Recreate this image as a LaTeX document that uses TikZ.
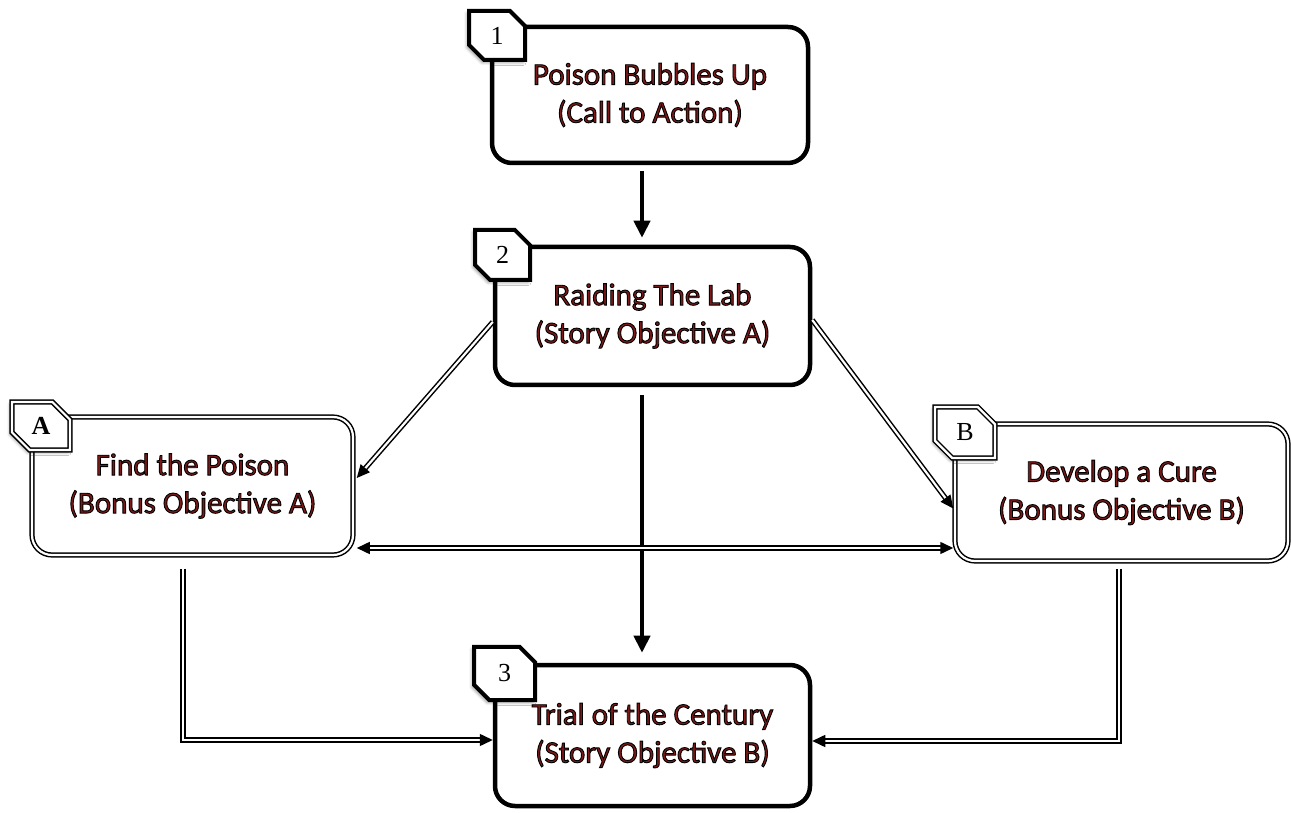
\documentclass[tikz,border=0pt]{standalone}
\usepackage{fontspec}
\setmainfont{Carlito}
\newfontfamily\tagfont{Liberation Serif}
\usetikzlibrary{arrows.meta,shapes.misc,shadows.blur}
\definecolor{txtred}{RGB}{125,25,25}
\newcommand{\otext}[1]{{\color{txtred}\special{pdf:literal direct 2 Tr 0.9 w 0 0 0 RG}#1\special{pdf:literal direct 0 Tr}}}
\tikzset{
  boxtext/.style={align=center,font=\fontsize{31}{38}\selectfont},
  heavybox/.style={draw=black,line width=4.5pt,rounded corners=20pt,fill=white,boxtext},
  dblbox/.style={draw=black,line width=1.5pt,double=white,double distance=2.2pt,rounded corners=20pt,fill=white,boxtext},
  tagbox/.style={chamfered rectangle,chamfered rectangle corners={north east,south west},
     chamfered rectangle xsep=9pt,chamfered rectangle ysep=9pt,fill=white,inner sep=0pt,
     font=\tagfont\fontsize{26}{28}\selectfont,
     blur shadow={shadow xshift=-2pt,shadow yshift=-2.5pt,shadow blur radius=3pt,shadow opacity=40}},
  heavytag/.style={tagbox,draw=black,line width=4pt},
  dbltag/.style={tagbox,draw=black,line width=1.5pt,double=white,double distance=2.2pt},
  heavyarrow/.style={line width=4pt,-{Triangle[length=17pt,width=16pt]}},
  dblarrow/.style={draw=black,line width=1.5pt,double=white,double distance=2.2pt,-{Triangle[length=13pt,width=12pt]}},
  dblline/.style={draw=black,line width=1.5pt,double=white,double distance=2.2pt},
}
\begin{document}
\begin{tikzpicture}[x=1pt,y=1pt]
\useasboundingbox (0,0) rectangle (1291,812);
% boxes
\node[heavybox,minimum width=316pt,minimum height=136pt] (b1) at (650,717) {\otext{Poison Bubbles Up}\\\otext{(Call to Action)}};
\node[heavybox,minimum width=315pt,minimum height=138pt] (b2) at (652.5,496) {\otext{Raiding The Lab}\\\otext{(Story Objective A)}};
\node[heavybox,minimum width=315pt,minimum height=141pt] (b3) at (652.5,76.5) {\otext{Trial of the Century}\\\otext{(Story Objective B)}};
\node[dblbox,minimum width=321pt,minimum height=138pt] (bA) at (192.5,326) {\otext{Find the Poison}\\\otext{(Bonus Objective A)}};
\node[dblbox,minimum width=333pt,minimum height=137pt] (bB) at (1121.5,319.5) {\otext{Develop a Cure}\\\otext{(Bonus Objective B)}};
% tags
\node[heavytag,minimum width=56pt,minimum height=49pt] (t1) at (497,776.5) {1};
\node[heavytag,minimum width=55pt,minimum height=50pt] (t2) at (502.5,557) {2};
\node[heavytag,minimum width=61pt,minimum height=53pt] (t3) at (504.5,138.5) {3};
\node[dbltag,minimum width=58pt,minimum height=48pt] (tA) at (41,386) {\bfseries A};
\node[dbltag,minimum width=60pt,minimum height=51pt] (tB) at (965,379.5) {B};
% helper coordinates
\coordinate (mx) at (642,0);
\coordinate (hy) at (0,264);
% connectors
\draw[heavyarrow] ([yshift=-6pt]b1.south -| mx) -- ([yshift=7pt]b2.north -| mx);
\draw[heavyarrow] ([yshift=-8pt]b2.south -| mx) -- ([yshift=10pt]b3.north -| mx);
\draw[dblarrow] ([yshift=-6pt]b2.west) -- ([xshift=3pt,yshift=8pt]bA.east);
\draw[dblarrow] ([yshift=-4pt]b2.east) -- ([xshift=-1pt,yshift=-16pt]bB.west);
\draw[dblline,{Triangle[length=13pt,width=12pt]}-{Triangle[length=13pt,width=12pt]}] ([xshift=3pt]bA.east |- hy) -- ([xshift=-1pt]bB.west |- hy);
\draw[dblarrow] ([xshift=-9.5pt,yshift=-13pt]bA.south) |- ([yshift=-4.5pt]b3.west);
\draw[dblarrow] ([xshift=-2.5pt,yshift=-7pt]bB.south) |- ([yshift=-5.5pt]b3.east);
\end{tikzpicture}
\end{document}
